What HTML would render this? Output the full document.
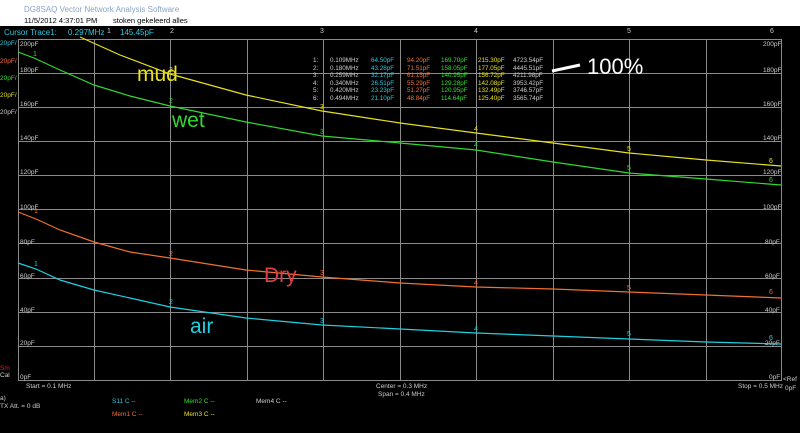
<!DOCTYPE html>
<html><head><meta charset="utf-8"><style>
body{margin:0;width:800px;height:428px;overflow:hidden;background:#000;font-family:"Liberation Sans",sans-serif}
</style></head><body>
<svg width="800" height="428" xmlns="http://www.w3.org/2000/svg" font-family="Liberation Sans, sans-serif">
<rect x="0" y="0" width="800" height="26" fill="#fff"/>
<text x="24" y="12" font-size="8" fill="#8aa4c8">DG8SAQ Vector Network Analysis Software</text>
<text x="24" y="23" font-size="7.5" fill="#000">11/5/2012  4:37:01 PM</text>
<text x="113" y="23" font-size="7.5" fill="#000">stoken gekeleerd alles</text>
<text x="4" y="35" font-size="8" fill="#28c8e0">Cursor Trace1:</text>
<text x="68" y="35" font-size="8" fill="#28c8e0">0.297MHz</text>
<text x="120" y="35" font-size="8" fill="#28c8e0">145.45pF</text>
<g stroke="#8a8a8a" stroke-width="1">
<rect x="18.5" y="39.5" width="763" height="341" fill="none"/>
<path d="M94.5 39V380M170.5 39V380M247.5 39V380M323.5 39V380M400.5 39V380M476.5 39V380M553.5 39V380M629.5 39V380M706.5 39V380"/>
<path d="M18 73.5H781M18 107.5H781M18 141.5H781M18 175.5H781M18 209.5H781M18 243.5H781M18 278.5H781M18 312.5H781M18 346.5H781"/>
</g>
<g font-size="6.5" fill="#ccc">
<text x="20" y="46">200pF</text><text x="20" y="72">180pF</text><text x="20" y="106">160pF</text><text x="20" y="140">140pF</text><text x="20" y="174">120pF</text>
<text x="20" y="209">100pF</text><text x="20" y="244">80pF</text><text x="20" y="278">60pF</text><text x="20" y="312">40pF</text><text x="20" y="345">20pF</text><text x="20" y="379">0pF</text>
<text x="763" y="46">200pF</text><text x="763" y="72">180pF</text><text x="763" y="106">160pF</text><text x="763" y="140">140pF</text><text x="763" y="174">120pF</text>
<text x="763" y="209">100pF</text><text x="765" y="244">80pF</text><text x="765" y="278">60pF</text><text x="765" y="312">40pF</text><text x="765" y="345">20pF</text><text x="769" y="379">0pF</text>
</g>
<g font-size="6.5">
<text x="0" y="45" fill="#28c8e0">20pF/</text><text x="0" y="63" fill="#ff7030">20pF/</text><text x="0" y="80" fill="#30e030">20pF/</text><text x="0" y="97" fill="#e0e020">20pF/</text><text x="0" y="114" fill="#ccc">20pF/</text>
<text x="0" y="370" fill="#e02020">Sm</text><text x="0" y="377" fill="#ccc">Cal</text>
</g>
<polyline fill="none" stroke="#e8e020" stroke-width="1.2" points="80,37 120,55 170,74 246,95 322,111 400,123 476,133 553,143 629,153 706,160 781,166"/>
<polyline fill="none" stroke="#30d830" stroke-width="1.2" points="18,52 34,58 60,70 94,85 130,96 170,106 246,122 322,136 400,143 476,150 553,162 629,173 706,179 781,185"/>
<polyline fill="none" stroke="#f07030" stroke-width="1.2" points="18,212 36,219 60,230 94,242 130,252 170,258 246,270 322,277 400,283 476,287 553,289 629,292 706,295 781,298"/>
<polyline fill="none" stroke="#20d0e0" stroke-width="1.2" points="18,263 36,269 60,280 94,290 130,298 170,307 246,318 322,325 400,329 476,333 553,336 629,339 706,342 781,344"/>
<g font-size="7" fill="#ccc"><text x="107" y="33">1</text><text x="170" y="33">2</text><text x="320" y="33">3</text><text x="474" y="33">4</text><text x="627" y="33">5</text><text x="770" y="33">6</text></g>
<g font-size="7">
<text x="33" y="56" fill="#30d830">1</text><text x="169" y="103" fill="#30d830">2</text><text x="320" y="134" fill="#30d830">3</text><text x="474" y="147" fill="#30d830">4</text><text x="627" y="170" fill="#30d830">5</text><text x="769" y="182" fill="#30d830">6</text>
<text x="169" y="72" fill="#e8e020">2</text><text x="320" y="109" fill="#e8e020">3</text><text x="474" y="131" fill="#e8e020">4</text><text x="627" y="151" fill="#e8e020">5</text><text x="769" y="163" fill="#e8e020">6</text>
<text x="34" y="213" fill="#f07030">1</text><text x="169" y="256" fill="#f07030">2</text><text x="320" y="275" fill="#f07030">3</text><text x="474" y="285" fill="#f07030">4</text><text x="627" y="290" fill="#f07030">5</text><text x="769" y="294" fill="#f07030">6</text>
<text x="34" y="266" fill="#20d0e0">1</text><text x="169" y="304" fill="#20d0e0">2</text><text x="320" y="323" fill="#20d0e0">3</text><text x="474" y="331" fill="#20d0e0">4</text><text x="627" y="336" fill="#20d0e0">5</text><text x="769" y="340" fill="#20d0e0">6</text>
</g>
<g font-size="6.3">
<g fill="#ccc"><text x="313" y="62">1:</text><text x="313" y="70">2:</text><text x="313" y="77">3:</text><text x="313" y="85">4:</text><text x="313" y="92">5:</text><text x="313" y="100">6:</text>
<text x="330" y="62">0.109MHz</text><text x="330" y="70">0.180MHz</text><text x="330" y="77">0.259MHz</text><text x="330" y="85">0.340MHz</text><text x="330" y="92">0.420MHz</text><text x="330" y="100">0.494MHz</text>
<text x="513" y="62">4723.54pF</text><text x="513" y="70">4445.51pF</text><text x="513" y="77">4211.98pF</text><text x="513" y="85">3953.42pF</text><text x="513" y="92">3746.57pF</text><text x="513" y="100">3565.74pF</text></g>
<g fill="#28c8e0"><text x="371" y="62">64.50pF</text><text x="371" y="70">43.28pF</text><text x="371" y="77">32.17pF</text><text x="371" y="85">26.51pF</text><text x="371" y="92">23.23pF</text><text x="371" y="100">21.10pF</text></g>
<g fill="#f07030"><text x="407" y="62">94.20pF</text><text x="407" y="70">71.51pF</text><text x="407" y="77">61.15pF</text><text x="407" y="85">55.29pF</text><text x="407" y="92">51.27pF</text><text x="407" y="100">48.84pF</text></g>
<g fill="#30e030"><text x="441" y="62">169.70pF</text><text x="441" y="70">158.05pF</text><text x="441" y="77">140.95pF</text><text x="441" y="85">129.28pF</text><text x="441" y="92">120.95pF</text><text x="441" y="100">114.64pF</text></g>
<g fill="#e8e020"><text x="478" y="62">215.30pF</text><text x="478" y="70">177.05pF</text><text x="478" y="77">156.72pF</text><text x="478" y="85">142.08pF</text><text x="478" y="92">132.49pF</text><text x="478" y="100">125.40pF</text></g>
</g>
<path d="M552 71L580 65" stroke="#fff" stroke-width="3"/>
<text x="587" y="74" font-size="22" fill="#fff">100%</text>
<text x="137" y="81" font-size="21" fill="#e8e020">mud</text>
<text x="172" y="127" font-size="21" fill="#30d830">wet</text>
<text x="264" y="282" font-size="21" fill="#e04040">Dry</text>
<text x="190" y="333" font-size="21" fill="#20d0e0">air</text>
<g font-size="6.5" fill="#ccc">
<text x="26" y="388">Start = 0.1 MHz</text><text x="376" y="388">Center = 0.3 MHz</text><text x="378" y="396">Span = 0.4 MHz</text><text x="738" y="388">Stop = 0.5 MHz</text>
<text x="783" y="381">&lt;Ref</text><text x="785" y="390">0pF</text>
<text x="0" y="400">a)</text><text x="0" y="408">TX Att. = 0 dB</text>
<text x="256" y="403">Mem4 C --</text>
</g>
<g font-size="6.5"><text x="112" y="403" fill="#28c8e0">S11 C --</text><text x="184" y="403" fill="#30e030">Mem2 C --</text><text x="112" y="416" fill="#f07030">Mem1 C --</text><text x="184" y="416" fill="#e8e020">Mem3 C --</text></g>
</svg>
</body></html>
